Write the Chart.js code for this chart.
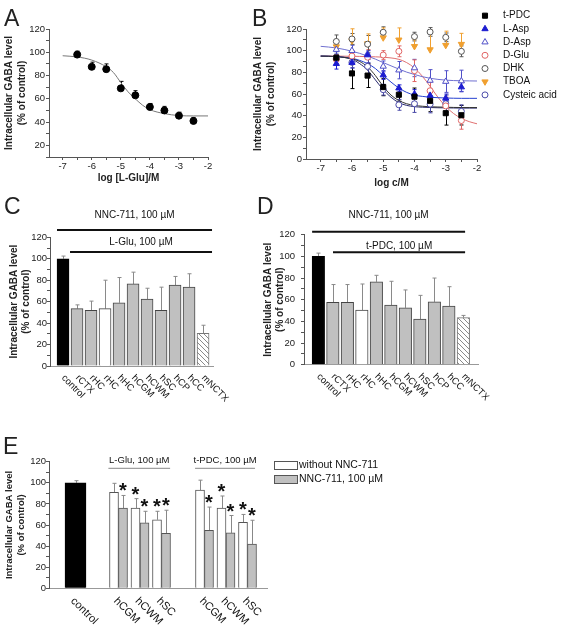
<!DOCTYPE html>
<html>
<head>
<meta charset="utf-8">
<script src="https://cdn.jsdelivr.net/npm/chart.js@4.4.1/dist/chart.umd.min.js"></script>
<style>
  body { margin: 0; background: #fff; }
  #wrap { position: relative; width: 563px; height: 629px; overflow: hidden; font-family: "Liberation Sans", Arial, sans-serif; }
  #wrap canvas { position: absolute; }
  .tag { position: absolute; font-size: 23px; line-height: 23px; color: #222; }
</style>
</head>
<body>
<div id="wrap">
  <canvas id="chartA" width="250" height="200" style="left:0;top:0"></canvas>
  <canvas id="chartB" width="313" height="200" style="left:250px;top:0"></canvas>
  <canvas id="chartC" width="250" height="210" style="left:0;top:200px"></canvas>
  <canvas id="chartD" width="313" height="210" style="left:250px;top:200px"></canvas>
  <canvas id="chartE" width="563" height="229" style="left:0;top:400px"></canvas>
  <div class="tag" style="left:4px;top:7px">A</div>
  <div class="tag" style="left:252px;top:7px">B</div>
  <div class="tag" style="left:4px;top:195px">C</div>
  <div class="tag" style="left:257px;top:195px">D</div>
  <div class="tag" style="left:3px;top:435px">E</div>
</div>
<script>
// ---- A: L-Glu concentration-response ----
const logConcA = [-6.5, -6, -5.5, -5, -4.5, -4, -3.5, -3, -2.5];
const gabaA = [98, 87.5, 85.5, 69, 63, 53, 50, 45.5, 41];
const errA = [3, 4, 4.5, 6, 4, 3, 3.5, 3, 3];
const fitXA = [-7, -6.5, -6, -5.5, -5.25, -5, -4.75, -4.5, -4.25, -4, -3.5, -3, -2.5, -2];
const fitYA = [97, 96, 93.3, 87.5, 82.5, 74, 66, 60, 54.5, 50.7, 47.3, 45.6, 45.3, 45.3];

// ---- B: other transporter ligands ----
const logConcB = [-6.5, -6, -5.5, -5, -4.5, -4, -3.5, -3, -2.5];
const tPDC = [93.5, 79, 77, 66.4, 59.3, 57.5, 53.7, 42.3, 40.4];
const tPDCErr = [3, 14, 11, 8, 6, 8, 10, 11, 9];
const lAsp = [88, 89, 96, 77.5, 65.4, 60, 58.6, 56, 66.4];
const lAspErr = [5, 5, 4, 4, 3, 4, 4, 4, 4];
const dAsp = [101, 100, 97, 85.5, 82, 84, 72.5, 71.5, 72];
const dAspErr = [4, 5, 8, 5, 8, 8, 10, 10, 10];
const dGlu = [92, 95, 94, 96, 99.4, 81.5, 63, 49, 35.5];
const dGluErr = [4, 5, 7, 4, 5, 10, 8, 8, 8];
const dhk = [108.5, 110.8, 106, 117, null, 113, 117.3, 112.3, 99.4];
const dhkErr = [6, 5, 8, 5, null, 4, 4, 4, 5];
const tboa = [103.7, 109.2, 106.5, 112, 110, 104, 101, 105, 106];
const tboaErr = [4, 11, 9, 9, 11, 6, 18, 13, 10];
const cysteic = [93, 89.2, 85.5, 64, 50, 51, 50.6, 51, 44];
const cysteicErr = [6, 5, 8, 5, 5, 8, 8, 8, 6];
const fitXB = [-7, -6.5, -6, -5.75, -5.5, -5.25, -5, -4.75, -4.5, -4.25, -4, -3.75, -3.5, -3.25, -3, -2.75, -2.5, -2.25, -2];
const tPDCFit = [95, 94.5, 92.5, 90, 85, 77, 67, 59, 54, 51, 49.5, 48.7, 48.2, 48, 47.8, 47.6, 47.5, 47.5, 47.5];
const cysteicFit = [95, 94.5, 92, 88, 82, 73, 64, 57, 52, 49.5, 48.3, 47.8, 47.5, 47.3, 47.2, 47.1, 47, 47, 47];
const lAspFit = [95, 94.5, 93, 91, 88, 83.5, 77, 71, 65.5, 61.5, 59, 57.8, 57, 56.6, 56.3, 56.1, 56, 56, 56];
const dAspFit = [104, 102.5, 99.5, 97.5, 95, 92.2, 89, 86, 83, 80.2, 78, 76, 74.5, 73.5, 72.8, 72.4, 72.2, 72.1, 72];
const dGluFit = [95, 95, 94.8, 94.7, 94.5, 94.3, 94, 93.3, 92, 89, 84, 76.5, 67, 57, 48.5, 42, 37.5, 34.5, 32.5];

// ---- C / D: bars per tissue ----
const regionsCD = ['control', 'rCTX', 'rHC', 'rHC', 'hHC', 'hCGM', 'hCWM', 'hSC', 'hCP', 'hCC', 'mNCTX'];
const gabaC = [100, 53.5, 52, 53.5, 59, 76.5, 62.5, 52, 75.5, 73.5, 30.5];
const errC = [2.5, 3.5, 8.5, 26.5, 23.5, 11, 10, 21.5, 8, 12.5, 7.5];
const gabaD = [100, 57.5, 57.5, 50.5, 76.5, 55, 52.5, 42, 58, 54, 43.5];
const errD = [3, 16.5, 16.5, 24, 6, 22, 16.5, 22, 22, 18, 2];

// ---- E: with / without NNC-711 ----
const regionsE = ['hCGM', 'hCWM', 'hSC'];
const controlE = [100];
const controlErrE = [2];
const withoutE = [91, 76, 65, 93, 76, 62.5];      // L-Glu group, then t-PDC group
const withoutErrE = [8.5, 9, 8, 9.5, 11.5, 7.5];
const withE = [76, 62, 52, 55, 52.5, 42];
const withErrE = [12, 11, 22, 22, 16.5, 22.5];
const starsWithoutE = [false, true, true, false, true, true];
const starsWithE = [true, true, true, true, true, true];

// tick values
const yTicksA = [10, 20, 30, 40, 50, 60, 70, 80, 90, 100, 110, 120];
const yTicks = [0, 10, 20, 30, 40, 50, 60, 70, 80, 90, 100, 110, 120];
const xTicksLog = [-7, -6.5, -6, -5.5, -5, -4.5, -4, -3.5, -3, -2.5, -2];

const FONT = '"Liberation Sans", Arial, sans-serif';
Chart.defaults.font.family = FONT;
Chart.defaults.font.size = 9.5;
Chart.defaults.color = '#222';
Chart.defaults.animation = false;
Chart.defaults.plugins.legend.display = false;
Chart.defaults.plugins.tooltip.enabled = false;

const GRAY = '#c0c0c0';

// error bars (+ optional significance stars) under the marks
const errorBars = {
  id: 'errorBars',
  beforeDatasetsDraw(chart) {
    const ctx = chart.ctx, yS = chart.scales.y;
    chart.data.datasets.forEach((ds, i) => {
      if (!ds.errors) return;
      const meta = chart.getDatasetMeta(i);
      ctx.save();
      ctx.strokeStyle = ds.errorColor || '#000';
      ctx.fillStyle = '#111';
      ctx.lineWidth = 1;
      meta.data.forEach((el, j) => {
        const e = ds.errors[j];
        const v = meta.controller.getParsed(j).y;
        if (e == null || v == null || isNaN(v)) return;
        const x = Math.round(el.x) + 0.5;
        const top = yS.getPixelForValue(v + e);
        const both = ds.errorDir === 'both';
        const bot = both ? yS.getPixelForValue(v - e) : yS.getPixelForValue(v);
        const cap = ds.capWidth || 2;
        ctx.beginPath();
        ctx.moveTo(x, bot); ctx.lineTo(x, top);
        ctx.moveTo(x - cap, top); ctx.lineTo(x + cap, top);
        if (both) { ctx.moveTo(x - cap, bot); ctx.lineTo(x + cap, bot); }
        ctx.stroke();
        if (ds.stars && ds.stars[j]) {
          ctx.font = 'bold 20px ' + FONT;
          ctx.textAlign = 'center';
          ctx.textBaseline = 'alphabetic';
          ctx.fillText('*', el.x, top + 2);
        }
      });
      ctx.restore();
    });
  }
};
Chart.register(errorBars);

// horizontal treatment lines with captions
const brackets = {
  id: 'brackets',
  afterDraw(chart, args, o) {
    if (!o.items) return;
    const { ctx, chartArea, scales: { x } } = chart;
    ctx.save();
    o.items.forEach(b => {
      const x0 = x.getPixelForValue(b.from), x1 = x.getPixelForValue(b.to);
      const y = chartArea.top + b.dy;
      ctx.strokeStyle = b.color;
      ctx.lineWidth = b.width;
      ctx.beginPath(); ctx.moveTo(x0, y); ctx.lineTo(x1, y); ctx.stroke();
      ctx.fillStyle = '#111';
      ctx.font = o.font;
      ctx.textAlign = 'center';
      ctx.textBaseline = 'middle';
      ctx.fillText(b.text, (x0 + x1) / 2, chartArea.top + b.textDy);
    });
    ctx.restore();
  }
};

// category names written downwards at 45 degrees
const tiltLabels = {
  id: 'tiltLabels',
  afterDraw(chart, args, o) {
    if (!o.labels) return;
    const { ctx, chartArea, scales: { x } } = chart;
    ctx.save();
    ctx.font = o.font;
    ctx.fillStyle = '#111';
    ctx.textAlign = 'left';
    ctx.textBaseline = 'middle';
    o.labels.forEach((t, i) => {
      ctx.save();
      ctx.translate(x.getPixelForValue(o.at[i]) + o.dx, chartArea.bottom + o.dy);
      ctx.rotate(Math.PI / 4);
      ctx.fillText(t, 0, 0);
      ctx.restore();
    });
    ctx.restore();
  }
};

// legend beside the plot
const sideLegend = {
  id: 'sideLegend',
  afterDraw(chart, args, o) {
    if (o.x == null) return;
    const ctx = chart.ctx;
    ctx.save();
    ctx.font = o.font;
    ctx.textAlign = 'left';
    ctx.textBaseline = 'middle';
    ctx.lineWidth = 1;
    let row = 0;
    chart.data.datasets.forEach(ds => {
      if (!ds.label) return;
      const y = o.y + row * o.step;
      if (o.box) {
        ctx.fillStyle = ds.backgroundColor;
        ctx.strokeStyle = ds.borderColor;
        ctx.fillRect(o.x, y - o.box[1] / 2, o.box[0], o.box[1]);
        ctx.strokeRect(o.x + 0.5, Math.round(y - o.box[1] / 2) + 0.5, o.box[0], o.box[1]);
      } else {
        ctx.fillStyle = ds.pointBackgroundColor;
        ctx.strokeStyle = ds.pointBorderColor;
        Chart.helpers.drawPoint(ctx, { pointStyle: ds.pointStyle, radius: ds.pointRadius, rotation: ds.pointRotation || 0, borderWidth: 1 }, o.x, y);
      }
      ctx.fillStyle = '#111';
      ctx.fillText(ds.label, o.textX, y);
      row++;
    });
    ctx.restore();
  }
};

const yTitle = ['Intracellular GABA level', '(% of control)'];

function yAxis(ticks, width, titlePad, tickPad, titleSize) {
  return {
    type: 'linear',
    min: ticks[0],
    max: ticks[ticks.length - 1],
    afterFit: s => { s.width = width; },
    afterBuildTicks: s => { s.ticks = ticks.map(v => ({ value: v })); },
    ticks: { autoSkip: false, padding: tickPad, callback: v => (v % 20 === 0 ? String(v) : '') },
    grid: { drawOnChartArea: false, tickLength: 3, tickColor: '#555' },
    border: { color: '#555' },
    title: { display: true, text: yTitle, font: { size: titleSize, weight: 'bold', lineHeight: 1.25 }, padding: { top: titlePad, bottom: 0 } }
  };
}

function logAxis(height, title, titlePad) {
  return {
    type: 'linear',
    min: -7.47,
    max: -2,
    afterFit: s => { s.height = height; },
    afterBuildTicks: s => { s.ticks = xTicksLog.map(v => ({ value: v })); },
    ticks: { autoSkip: false, maxRotation: 0, padding: 1, callback: v => (Number.isInteger(v) ? String(v) : '') },
    grid: { drawOnChartArea: false, tickLength: 3, tickColor: '#555' },
    border: { color: '#555' },
    title: { display: true, text: title, font: { size: 10, weight: 'bold' }, padding: { top: 0, bottom: titlePad } }
  };
}

function slotAxis(min, max, height) {
  return {
    type: 'linear', min, max, offset: false,
    afterFit: s => { s.height = height; },
    ticks: { display: false },
    grid: { display: false },
    border: { color: '#999' }
  };
}

const base = { responsive: false, devicePixelRatio: 1, events: [] };

const pts = (xs, ys) => xs.map((x, i) => ({ x, y: ys[i] }));

// ---------- A ----------
new Chart(document.getElementById('chartA'), {
  type: 'scatter',
  data: {
    datasets: [{
      data: pts(logConcA, gabaA),
      pointRadius: 3.5, pointBackgroundColor: '#000', pointBorderColor: '#000',
      errors: errA, errorDir: 'up', errorColor: '#000', capWidth: 2
    }, {
      data: pts(fitXA, fitYA),
      showLine: true, pointRadius: 0, borderColor: '#777', borderWidth: 1,
      cubicInterpolationMode: 'monotone'
    }]
  },
  options: {
    ...base,
    layout: { padding: { left: 0, top: 29, right: 42, bottom: 0 } },
    scales: {
      x: logAxis(43, 'log [L-Glu]/M', 16),
      y: yAxis(yTicksA, 49, 3, 1, 10)
    }
  }
});

// ---------- B ----------
function markers(label, ys, errs, style, color, fill, dir) {
  return {
    label, data: pts(logConcB, ys),
    pointStyle: style.shape, pointRotation: style.rot || 0, pointRadius: style.r,
    pointBackgroundColor: fill, pointBorderColor: color, pointBorderWidth: 1,
    errors: errs, errorDir: dir || 'both', errorColor: color, capWidth: 2
  };
}
function fitLine(ys, color) {
  return {
    data: pts(fitXB, ys), showLine: true, pointRadius: 0,
    borderColor: color, borderWidth: 1, cubicInterpolationMode: 'monotone'
  };
}
new Chart(document.getElementById('chartB'), {
  type: 'scatter',
  data: {
    datasets: [
      markers('t-PDC', tPDC, tPDCErr, { shape: 'rect', r: 3.6 }, '#000', '#000'),
      markers('L-Asp', lAsp, lAspErr, { shape: 'triangle', r: 3.6 }, '#1c1cd0', '#1c1cd0'),
      markers('D-Asp', dAsp, dAspErr, { shape: 'triangle', r: 3.6 }, '#5050c8', '#fff'),
      markers('D-Glu', dGlu, dGluErr, { shape: 'circle', r: 3 }, '#e06464', '#fff'),
      markers('DHK', dhk, dhkErr, { shape: 'circle', r: 3 }, '#555', '#fff'),
      markers('TBOA', tboa, tboaErr, { shape: 'triangle', rot: 180, r: 3.6 }, '#f0a030', '#f0a030', 'up'),
      markers('Cysteic acid', cysteic, cysteicErr, { shape: 'circle', r: 3 }, '#4a4aa8', '#fff'),
      fitLine(tPDCFit, '#333'),
      fitLine(cysteicFit, '#2a2a70'),
      fitLine(lAspFit, '#2540d0'),
      fitLine(dAspFit, '#7070d0'),
      fitLine(dGluFit, '#e07070')
    ]
  },
  options: {
    ...base,
    layout: { padding: { left: 0, top: 29, right: 86, bottom: 0 } },
    scales: {
      x: logAxis(41, 'log c/M', 11),
      y: yAxis(yTicks, 56, 2, 1, 10)
    },
    plugins: { sideLegend: { x: 235, y: 15.7, step: 13.2, textX: 253, font: '10px ' + FONT } }
  },
  plugins: [sideLegend]
});

// ---------- C / D ----------
function hatch(canvas) {
  const tile = document.createElement('canvas');
  tile.width = 5; tile.height = 5;
  const g = tile.getContext('2d');
  g.fillStyle = '#fff'; g.fillRect(0, 0, 5, 5);
  g.strokeStyle = '#8a8a8a'; g.lineWidth = 1;
  g.beginPath(); g.moveTo(-1, -1); g.lineTo(6, 6); g.stroke();
  return canvas.getContext('2d').createPattern(tile, 'repeat');
}

function tissuePanel(id, values, errs, geo, bracketItems) {
  const canvas = document.getElementById(id);
  const fills = regionsCD.map((r, i) => i === 0 ? '#000' : i === 3 ? '#fff' : i === regionsCD.length - 1 ? hatch(canvas) : GRAY);
  const borders = regionsCD.map((r, i) => i === 0 ? '#000' : i === regionsCD.length - 1 ? '#777' : '#444');
  new Chart(canvas, {
    type: 'bar',
    data: {
      datasets: [{
        data: regionsCD.map((r, i) => ({ x: i, y: values[i] })),
        backgroundColor: fills, borderColor: borders, borderWidth: 1,
        barThickness: geo.bar,
        errors: errs, errorDir: 'up', errorColor: '#8a8a8a', capWidth: 2
      }]
    },
    options: {
      ...base,
      layout: { padding: { left: 0, top: geo.top, right: geo.right, bottom: 0 } },
      scales: {
        x: slotAxis(geo.min, geo.max, geo.xh),
        y: yAxis(yTicks, geo.yw, geo.titlePad, geo.tickPad, 10)
      },
      plugins: {
        brackets: { items: bracketItems, font: '10px ' + FONT },
        tiltLabels: { labels: regionsCD, at: regionsCD.map((r, i) => i), dx: 0, dy: 10.5, font: '9.5px ' + FONT }
      }
    },
    plugins: [brackets, tiltLabels]
  });
}

tissuePanel('chartC', gabaC, errC,
  { bar: 12, top: 37.3, right: 37, min: -0.93, max: 10.71, xh: 44, yw: 50, titlePad: 7.75, tickPad: 0 },
  [{ from: -0.43, to: 10.64, dy: -7.3, textDy: -22.3, text: 'NNC-711, 100 µM', color: '#111', width: 2 },
   { from: 0.5, to: 10.64, dy: 14.7, textDy: 5.2, text: 'L-Glu, 100 µM', color: '#111', width: 2 }]);

tissuePanel('chartD', gabaD, errD,
  { bar: 12.5, top: 34.7, right: 85, min: -0.99, max: 11.01, xh: 45.3, yw: 54, titlePad: 11.5, tickPad: 6 },
  [{ from: -0.43, to: 10.12, dy: -3, textDy: -19.7, text: 'NNC-711, 100 µM', color: '#111', width: 2 },
   { from: 1.01, to: 10.12, dy: 17.6, textDy: 11.1, text: 't-PDC, 100 µM', color: '#111', width: 2 }]);

// ---------- E ----------
// slot 0 = control, slots 2-4 = L-Glu group, slots 6-8 = t-PDC group
const slotsE = [0, 1].flatMap(g => regionsE.map((r, k) => 2 + g * 4 + k));
new Chart(document.getElementById('chartE'), {
  type: 'bar',
  data: {
    datasets: [{
      data: pts([0], controlE), grouped: false, barThickness: 21,
      backgroundColor: '#000', borderColor: '#000', borderWidth: 1,
      errors: controlErrE, errorDir: 'up', errorColor: '#888', capWidth: 2
    }, {
      label: 'without NNC-711',
      data: pts(slotsE, withoutE), barThickness: 9,
      backgroundColor: '#fff', borderColor: '#555', borderWidth: 1,
      errors: withoutErrE, errorDir: 'up', errorColor: '#888', capWidth: 2, stars: starsWithoutE
    }, {
      label: 'NNC-711, 100 µM',
      data: pts(slotsE, withE), barThickness: 9,
      backgroundColor: GRAY, borderColor: '#555', borderWidth: 1,
      errors: withErrE, errorDir: 'up', errorColor: '#888', capWidth: 2, stars: starsWithE
    }]
  },
  options: {
    ...base,
    layout: { padding: { left: 0, top: 61.7, right: 296, bottom: 0 } },
    scales: {
      x: slotAxis(-1.233, 8.907, 40.7),
      y: yAxis(yTicks, 49, 3.75, 0, 9.5)
    },
    plugins: {
      brackets: {
        font: '9.5px ' + FONT,
        items: [{ from: 1.53, to: 4.4, dy: 6.6, textDy: -1.7, text: 'L-Glu, 100 µM', color: '#888', width: 1 },
                { from: 5.56, to: 8.35, dy: 6.6, textDy: -1.7, text: 't-PDC, 100 µM', color: '#888', width: 1 }]
      },
      tiltLabels: { labels: ['control', ...regionsE, ...regionsE], at: [0, ...slotsE], dx: -3, dy: 11, font: '11px ' + FONT },
      sideLegend: { x: 274, y: 65, step: 14, textX: 299, box: [23, 8], font: '10.5px ' + FONT }
    }
  },
  plugins: [brackets, tiltLabels, sideLegend]
});
</script>
</body>
</html>
